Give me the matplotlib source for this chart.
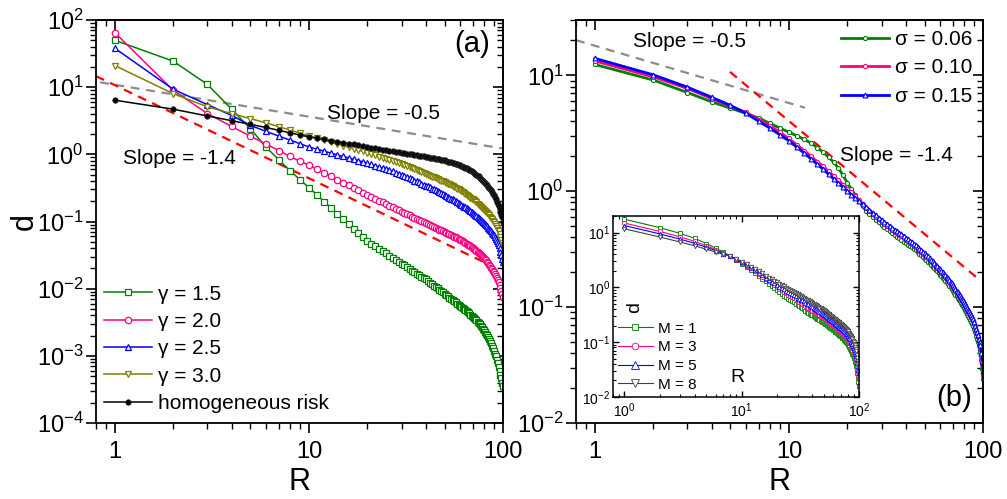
import numpy as np
import matplotlib
matplotlib.use("Agg")
import matplotlib.pyplot as plt
from matplotlib.ticker import NullFormatter

plt.rcParams["font.family"] = ["Liberation Sans", "DejaVu Sans"]
plt.rcParams["mathtext.fontset"] = "custom"
plt.rcParams["mathtext.rm"] = "Liberation Sans"
plt.rcParams["mathtext.it"] = "Liberation Sans:italic"
plt.rcParams["axes.linewidth"] = 1.3

R = np.arange(1, 101)

# panel (a): heterogeneous risk exponents
gamma_15 = [50, 24.4, 11, 4.7, 2.4, 1.29, 0.83, 0.57, 0.42, 0.32,
            0.249, 0.197, 0.16, 0.131, 0.109, 0.092, 0.0784, 0.0674, 0.0584, 0.051,
            0.0465, 0.0425, 0.0391, 0.0361, 0.0334, 0.031, 0.0288, 0.0269, 0.0252, 0.0236,
            0.0222, 0.0209, 0.0197, 0.0186, 0.0176, 0.0167, 0.0158, 0.0151, 0.0143, 0.0137,
            0.013, 0.0123, 0.0117, 0.0111, 0.0106, 0.0101, 0.0096, 0.0092, 0.0088, 0.0084,
            0.0080, 0.00767, 0.00735, 0.00704, 0.00676, 0.00649, 0.00623, 0.00599, 0.00576, 0.00555,
            0.00535, 0.00516, 0.00498, 0.00481, 0.00465, 0.00447, 0.00429, 0.00412, 0.00396, 0.0038,
            0.00365, 0.0035, 0.00336, 0.00323, 0.0031, 0.00295, 0.0028, 0.00266, 0.00253, 0.0024,
            0.00227, 0.00214, 0.00202, 0.00191, 0.0018, 0.00166, 0.00153, 0.00141, 0.0013, 0.0012,
            0.00108, 0.00098, 0.00088, 0.00077, 0.00068, 0.0006, 0.00052, 0.00046, 0.0004, 0.00035]
gamma_20 = [65, 9.0, 4.05, 2.6, 1.86, 1.43, 1.14, 0.93, 0.79, 0.69,
            0.60, 0.528, 0.469, 0.421, 0.38, 0.346, 0.316, 0.291, 0.269, 0.25,
            0.233, 0.218, 0.205, 0.193, 0.182, 0.172, 0.163, 0.155, 0.147, 0.14,
            0.134, 0.128, 0.123, 0.118, 0.113, 0.109, 0.105, 0.101, 0.097, 0.094,
            0.091, 0.088, 0.0855, 0.0829, 0.0805, 0.0782, 0.076, 0.0739, 0.0719, 0.070,
            0.068, 0.0661, 0.0643, 0.0626, 0.0609, 0.0593, 0.0578, 0.0564, 0.055, 0.0537,
            0.0524, 0.0509, 0.0494, 0.048, 0.0467, 0.0454, 0.0442, 0.043, 0.0419, 0.0408,
            0.0395, 0.038, 0.0366, 0.0353, 0.0341, 0.0329, 0.0318, 0.0307, 0.0297, 0.0287,
            0.0276, 0.0263, 0.0251, 0.024, 0.0229, 0.0218, 0.0206, 0.0195, 0.0185, 0.0175,
            0.0164, 0.0153, 0.0143, 0.0134, 0.0125, 0.0113, 0.0102, 0.0092, 0.0083, 0.0074]
gamma_25 = [38, 9.3, 5.5, 3.8, 2.7, 2.2, 1.87, 1.63, 1.44, 1.29,
            1.195, 1.113, 1.043, 0.982, 0.93, 0.884, 0.843, 0.805, 0.772, 0.74,
            0.707, 0.677, 0.649, 0.623, 0.60, 0.577, 0.556, 0.536, 0.517, 0.50,
            0.479, 0.459, 0.44, 0.423, 0.407, 0.395, 0.381, 0.367, 0.355, 0.343,
            0.333, 0.321, 0.31, 0.30, 0.29, 0.28, 0.272, 0.263, 0.255, 0.248,
            0.242, 0.234, 0.227, 0.22, 0.213, 0.206, 0.20, 0.195, 0.189, 0.184,
            0.179, 0.173, 0.167, 0.162, 0.157, 0.152, 0.148, 0.143, 0.139, 0.135,
            0.131, 0.126, 0.121, 0.117, 0.113, 0.109, 0.105, 0.101, 0.098, 0.0945,
            0.0913, 0.0878, 0.0844, 0.0811, 0.078, 0.0745, 0.0711, 0.0679, 0.0649, 0.062,
            0.0582, 0.0546, 0.0512, 0.048, 0.045, 0.040, 0.0356, 0.0316, 0.0281, 0.025]
gamma_30 = [21, 8.0, 5.1, 4.05, 3.4, 2.95, 2.58, 2.3, 2.07, 1.88,
            1.74, 1.62, 1.52, 1.43, 1.35, 1.28, 1.215, 1.16, 1.11, 1.06,
            1.01, 0.965, 0.92, 0.885, 0.85, 0.817, 0.788, 0.76, 0.734, 0.71,
            0.684, 0.66, 0.638, 0.617, 0.597, 0.579, 0.559, 0.541, 0.524, 0.507,
            0.495, 0.48, 0.467, 0.454, 0.441, 0.429, 0.418, 0.407, 0.397, 0.388,
            0.378, 0.367, 0.356, 0.346, 0.336, 0.327, 0.318, 0.309, 0.301, 0.294,
            0.285, 0.275, 0.266, 0.258, 0.249, 0.242, 0.234, 0.227, 0.22, 0.214,
            0.207, 0.199, 0.192, 0.184, 0.178, 0.171, 0.165, 0.159, 0.154, 0.149,
            0.144, 0.139, 0.134, 0.129, 0.124, 0.118, 0.113, 0.108, 0.103, 0.098,
            0.092, 0.086, 0.081, 0.076, 0.071, 0.0645, 0.0586, 0.0533, 0.0484, 0.044]
homog = [6.4, 4.7, 3.73, 3.17, 2.8, 2.51, 2.28, 2.09, 1.94, 1.82,
         1.74, 1.67, 1.6, 1.55, 1.5, 1.45, 1.41, 1.37, 1.33, 1.30,
         1.264, 1.231, 1.2, 1.176, 1.154, 1.133, 1.113, 1.094, 1.076, 1.06,
         1.043, 1.028, 1.013, 0.998, 0.984, 0.971, 0.958, 0.946, 0.932, 0.918,
         0.905, 0.893, 0.881, 0.87, 0.859, 0.848, 0.838, 0.828, 0.818, 0.81,
         0.796, 0.782, 0.769, 0.756, 0.744, 0.732, 0.72, 0.709, 0.698, 0.688,
         0.674, 0.659, 0.644, 0.63, 0.616, 0.603, 0.59, 0.578, 0.562, 0.544,
         0.528, 0.512, 0.496, 0.482, 0.468, 0.451, 0.434, 0.417, 0.401, 0.386,
         0.371, 0.358, 0.345, 0.33, 0.316, 0.303, 0.29, 0.274, 0.258, 0.244,
         0.23, 0.213, 0.198, 0.183, 0.17, 0.155, 0.14, 0.127, 0.115, 0.10]

# panel (b): sigma values
sigma_006 = [12.4, 9.1, 7.1, 5.9, 5.2, 4.7, 4.27, 3.84, 3.5, 3.23,
             3.0, 2.8, 2.6, 2.38, 2.17, 1.97, 1.78, 1.58, 1.37, 1.18,
             1.04, 0.92, 0.82, 0.74, 0.68, 0.639, 0.602, 0.569, 0.538, 0.51,
             0.488, 0.468, 0.45, 0.433, 0.416, 0.401, 0.392, 0.379, 0.368, 0.357,
             0.346, 0.336, 0.327, 0.318, 0.309, 0.298, 0.288, 0.279, 0.27, 0.261,
             0.253, 0.246, 0.238, 0.232, 0.224, 0.216, 0.209, 0.203, 0.196, 0.19,
             0.184, 0.179, 0.174, 0.169, 0.164, 0.159, 0.153, 0.148, 0.142, 0.137,
             0.133, 0.128, 0.124, 0.12, 0.116, 0.112, 0.108, 0.105, 0.102, 0.099,
             0.095, 0.091, 0.088, 0.084, 0.081, 0.078, 0.075, 0.072, 0.069, 0.0647,
             0.0606, 0.0568, 0.0532, 0.0499, 0.0467, 0.0438, 0.041, 0.035, 0.029, 0.024]
sigma_010 = [13.3, 9.7, 7.7, 6.3, 5.4, 4.8, 4.15, 3.66, 3.22, 2.85,
             2.51, 2.23, 2.0, 1.8, 1.64, 1.485, 1.355, 1.24, 1.14, 1.05,
             0.975, 0.905, 0.838, 0.777, 0.72, 0.675, 0.636, 0.60, 0.57, 0.542,
             0.52, 0.50, 0.482, 0.465, 0.449, 0.434, 0.423, 0.409, 0.395, 0.383,
             0.371, 0.36, 0.349, 0.339, 0.328, 0.317, 0.307, 0.298, 0.288, 0.28,
             0.272, 0.264, 0.256, 0.248, 0.239, 0.232, 0.224, 0.217, 0.21, 0.204,
             0.198, 0.192, 0.186, 0.181, 0.176, 0.171, 0.165, 0.159, 0.154, 0.148,
             0.143, 0.138, 0.134, 0.129, 0.125, 0.121, 0.117, 0.114, 0.11, 0.1065,
             0.1025, 0.0988, 0.0951, 0.0916, 0.0882, 0.0849, 0.0818, 0.0788, 0.0759, 0.0712,
             0.0667, 0.0625, 0.0586, 0.0548, 0.0515, 0.0482, 0.0452, 0.038, 0.032, 0.026]
sigma_015 = [14.0, 10.1, 7.9, 6.46, 5.5, 4.7, 4.01, 3.49, 3.06, 2.72,
             2.39, 2.13, 1.9, 1.71, 1.55, 1.40, 1.28, 1.175, 1.08, 1.0,
             0.933, 0.873, 0.819, 0.77, 0.727, 0.687, 0.651, 0.619, 0.589, 0.562,
             0.54, 0.52, 0.501, 0.483, 0.466, 0.451, 0.439, 0.425, 0.411, 0.398,
             0.386, 0.374, 0.363, 0.353, 0.341, 0.33, 0.319, 0.309, 0.30, 0.291,
             0.282, 0.274, 0.266, 0.257, 0.249, 0.241, 0.233, 0.226, 0.219, 0.212,
             0.205, 0.199, 0.194, 0.188, 0.183, 0.178, 0.172, 0.166, 0.16, 0.154,
             0.149, 0.144, 0.139, 0.134, 0.13, 0.126, 0.122, 0.118, 0.1145, 0.1107,
             0.1066, 0.1027, 0.0989, 0.0952, 0.0917, 0.0883, 0.085, 0.0819, 0.0789, 0.074,
             0.0693, 0.065, 0.0609, 0.057, 0.0535, 0.0501, 0.047, 0.040, 0.034, 0.028]

# inset: M values
m_1 = [17.5, 12.3, 9.6, 7.8, 6.3, 5.2, 4.4, 3.7, 3.15, 2.7,
       2.37, 2.1, 1.83, 1.6, 1.43, 1.28, 1.15, 1.05, 0.96, 0.88,
       0.816, 0.759, 0.708, 0.663, 0.622, 0.593, 0.56, 0.53, 0.502, 0.477,
       0.456, 0.434, 0.414, 0.395, 0.378, 0.361, 0.346, 0.332, 0.319, 0.307,
       0.299, 0.289, 0.279, 0.27, 0.261, 0.253, 0.245, 0.238, 0.231, 0.224,
       0.218, 0.212, 0.205, 0.20, 0.194, 0.189, 0.183, 0.179, 0.174, 0.169,
       0.165, 0.16, 0.155, 0.151, 0.146, 0.142, 0.138, 0.135, 0.131, 0.128,
       0.124, 0.121, 0.117, 0.113, 0.11, 0.106, 0.102, 0.099, 0.095, 0.092,
       0.088, 0.084, 0.08, 0.076, 0.073, 0.069, 0.065, 0.062, 0.058, 0.055,
       0.051, 0.047, 0.043, 0.040, 0.037, 0.032, 0.027, 0.023, 0.019, 0.016]
m_3 = [14.9, 10.5, 8.31, 6.88, 5.73, 4.88, 4.24, 3.7, 3.21, 2.8,
       2.48, 2.22, 1.96, 1.74, 1.57, 1.41, 1.28, 1.18, 1.087, 1.01,
       0.941, 0.88, 0.825, 0.776, 0.731, 0.70, 0.665, 0.632, 0.602, 0.575,
       0.551, 0.527, 0.505, 0.482, 0.462, 0.442, 0.425, 0.408, 0.392, 0.378,
       0.368, 0.355, 0.343, 0.332, 0.322, 0.312, 0.302, 0.293, 0.285, 0.276,
       0.268, 0.261, 0.252, 0.245, 0.238, 0.231, 0.224, 0.218, 0.212, 0.206,
       0.201, 0.195, 0.189, 0.185, 0.179, 0.174, 0.169, 0.165, 0.161, 0.157,
       0.153, 0.149, 0.144, 0.14, 0.136, 0.132, 0.127, 0.123, 0.119, 0.116,
       0.111, 0.106, 0.101, 0.096, 0.092, 0.087, 0.0825, 0.0786, 0.0738, 0.0699,
       0.0651, 0.0601, 0.0551, 0.0512, 0.0472, 0.041, 0.0351, 0.0303, 0.0256, 0.0219]
m_5 = [13.4, 9.45, 7.55, 6.33, 5.37, 4.67, 4.13, 3.7, 3.25, 2.86,
       2.56, 2.3, 2.06, 1.85, 1.67, 1.51, 1.38, 1.27, 1.18, 1.107,
       1.036, 0.972, 0.914, 0.863, 0.816, 0.783, 0.746, 0.712, 0.681, 0.652,
       0.626, 0.60, 0.577, 0.552, 0.529, 0.507, 0.488, 0.469, 0.451, 0.435,
       0.423, 0.409, 0.395, 0.382, 0.37, 0.359, 0.348, 0.337, 0.328, 0.319,
       0.309, 0.30, 0.29, 0.281, 0.272, 0.264, 0.257, 0.25, 0.243, 0.235,
       0.229, 0.223, 0.217, 0.211, 0.205, 0.20, 0.194, 0.19, 0.185, 0.181,
       0.176, 0.171, 0.166, 0.161, 0.157, 0.152, 0.148, 0.143, 0.139, 0.135,
       0.13, 0.124, 0.118, 0.112, 0.107, 0.102, 0.097, 0.0921, 0.0869, 0.0821,
       0.0768, 0.071, 0.0652, 0.0604, 0.0556, 0.0485, 0.0419, 0.0364, 0.0313, 0.027]
m_8 = [11.7, 8.3, 6.7, 5.7, 4.96, 4.43, 4.0, 3.7, 3.3, 2.95,
       2.66, 2.4, 2.18, 1.98, 1.8, 1.64, 1.51, 1.4, 1.31, 1.24,
       1.165, 1.098, 1.037, 0.983, 0.933, 0.898, 0.859, 0.824, 0.791, 0.76,
       0.732, 0.705, 0.679, 0.651, 0.625, 0.60, 0.577, 0.556, 0.535, 0.516,
       0.502, 0.485, 0.469, 0.454, 0.44, 0.426, 0.413, 0.401, 0.39, 0.379,
       0.367, 0.355, 0.344, 0.333, 0.322, 0.312, 0.303, 0.294, 0.286, 0.277,
       0.27, 0.263, 0.256, 0.249, 0.242, 0.236, 0.23, 0.224, 0.219, 0.214,
       0.209, 0.203, 0.197, 0.192, 0.187, 0.182, 0.177, 0.172, 0.168, 0.163,
       0.157, 0.15, 0.143, 0.136, 0.13, 0.124, 0.118, 0.112, 0.106, 0.10,
       0.094, 0.087, 0.08, 0.074, 0.068, 0.0595, 0.052, 0.0457, 0.04, 0.035]

# guide lines (end points)
a_red_R, a_red_d = [0.8, 90], [14.6, 0.021]
a_grey_R, a_grey_d = [0.84, 100], [11.8, 1.22]
b_red_R, b_red_d = [4.97, 92.8], [10.7, 0.18]
b_grey_R, b_grey_d = [0.8, 12.1], [20.1, 5.25]

GREEN, PINK, BLUE, OLIVE = "#008000", "#FF0080", "#0000FF", "#808000"


def style_main(ax):
    ax.set_xscale("log")
    ax.set_yscale("log")
    ax.tick_params(which="major", direction="out", length=7, width=1.2, labelsize=17)
    ax.tick_params(which="minor", direction="out", length=4, width=1.0)
    ax.tick_params(axis="x", pad=6)
    ax.tick_params(axis="y", pad=2)
    for side in ("top", "right"):
        if side == "top":
            sec = ax.secondary_xaxis("top")
            sec.tick_params(axis="x", labeltop=False)
        else:
            sec = ax.secondary_yaxis("right")
            sec.tick_params(axis="y", labelright=False)
        sec.tick_params(which="major", direction="in", length=7, width=1.2)
        sec.tick_params(which="minor", direction="in", length=4, width=1.0)
    ax.set_xlim(0.8, 100)
    ax.set_xticks([1, 10, 100])
    ax.set_xticklabels(["1", "10", "100"])
    ax.xaxis.set_minor_formatter(NullFormatter())
    ax.yaxis.set_minor_formatter(NullFormatter())


fig = plt.figure(figsize=(10.07, 4.99), dpi=100)
ax_a = fig.add_axes([0.0953, 0.1523, 0.4042, 0.8076])
ax_b = fig.add_axes([0.572, 0.1523, 0.4042, 0.8076])
ax_in = fig.add_axes([0.6087, 0.2044, 0.2443, 0.3627])

# ---- panel (a)
ax_a.plot(a_grey_R, a_grey_d, color="#8c8c8c", lw=1.6, dashes=(4, 3), zorder=1)
ax_a.plot(a_red_R, a_red_d, color="#FF0000", lw=1.6, dashes=(4, 3), zorder=1)
ax_a.plot(R, gamma_15, color=GREEN, lw=1.1, marker="s", ms=4.2, mfc="white", mew=0.9, label="γ = 1.5")
ax_a.plot(R, gamma_20, color=PINK, lw=1.1, marker="o", ms=4.6, mfc="white", mew=0.9, label="γ = 2.0")
ax_a.plot(R, gamma_25, color=BLUE, lw=1.1, marker="^", ms=5, mfc="white", mew=0.9, label="γ = 2.5")
ax_a.plot(R, gamma_30, color=OLIVE, lw=1.1, marker="v", ms=5, mfc="white", mew=0.9, label="γ = 3.0")
ax_a.plot(R, homog, color="black", lw=1.1, marker="o", ms=4, mfc="black", mec="#333333",
          mew=0.5, label="homogeneous risk")
style_main(ax_a)
ax_a.set_ylim(1e-4, 1e2)
ax_a.set_xlabel("R", fontsize=22, labelpad=3)
ax_a.set_ylabel("d", fontsize=22, labelpad=-2)
ax_a.text(0.968, 0.94, "(a)", transform=ax_a.transAxes, fontsize=21, ha="right", va="center")
ax_a.text(0.5676, 0.768, "Slope = -0.5", transform=ax_a.transAxes, fontsize=15, ha="left", va="center")
ax_a.text(0.0663, 0.656, "Slope = -1.4", transform=ax_a.transAxes, fontsize=15, ha="left", va="center")
ax_a.legend(loc="lower left", bbox_to_anchor=(0.02, 0.025), frameon=False, fontsize=15,
            handlelength=2.3, handletextpad=0.3, labelspacing=0.4, borderpad=0,
            borderaxespad=0, numpoints=1)

# ---- panel (b)
ax_b.plot(b_grey_R, b_grey_d, color="#8c8c8c", lw=1.6, dashes=(4, 3), zorder=1)
ax_b.plot(b_red_R, b_red_d, color="#FF0000", lw=1.6, dashes=(4, 3), zorder=1)
ax_b.plot(R, sigma_006, color=GREEN, lw=2.0, marker="o", ms=3, mfc="white", mew=0.8, label="σ = 0.06")
ax_b.plot(R, sigma_010, color=PINK, lw=2.0, marker="o", ms=3, mfc="white", mew=0.8, label="σ = 0.10")
ax_b.plot(R, sigma_015, color=BLUE, lw=2.0, marker="^", ms=3.5, mfc="white", mew=0.8, label="σ = 0.15")
style_main(ax_b)
ax_b.set_ylim(0.01, 30)
ax_b.set_xlabel("R", fontsize=22, labelpad=3)
ax_b.text(0.973, 0.063, "(b)", transform=ax_b.transAxes, fontsize=21, ha="right", va="center")
ax_b.text(0.14, 0.947, "Slope = -0.5", transform=ax_b.transAxes, fontsize=15, ha="left", va="center")
ax_b.text(0.649, 0.665, "Slope = -1.4", transform=ax_b.transAxes, fontsize=15, ha="left", va="center")
ax_b.legend(loc="upper right", bbox_to_anchor=(0.975, 0.975), frameon=False, fontsize=15,
            handlelength=2.3, handletextpad=0.3, labelspacing=0.45, borderpad=0,
            borderaxespad=0, numpoints=1)

# ---- inset
ax_in.plot(R, m_1, color=GREEN, lw=0.8, marker="s", ms=3, mfc="white", mew=0.6, label="M = 1")
ax_in.plot(R, m_3, color=PINK, lw=0.8, marker="o", ms=3, mfc="white", mew=0.6, label="M = 3")
ax_in.plot(R, m_5, color=BLUE, lw=0.8, marker="^", ms=3.2, mfc="white", mew=0.6, label="M = 5")
ax_in.plot(R, m_8, color="#404040", lw=0.8, marker="v", ms=3.2, mfc="white", mew=0.6, label="M = 8")
ax_in.set_xscale("log")
ax_in.set_yscale("log")
ax_in.set_xlim(0.8, 100)
ax_in.set_ylim(0.01, 20)
ax_in.tick_params(which="both", direction="in", top=True, right=True, labelsize=10)
ax_in.tick_params(which="major", length=4.5, width=1.0)
ax_in.tick_params(which="minor", length=2.5, width=0.8)
ax_in.tick_params(axis="y", pad=2)
ax_in.xaxis.set_minor_formatter(NullFormatter())
ax_in.yaxis.set_minor_formatter(NullFormatter())
for sp in ax_in.spines.values():
    sp.set_linewidth(1.1)
ax_in.text(0.089, 0.497, "d", transform=ax_in.transAxes, fontsize=14, rotation=90,
           ha="center", va="center")
ax_in.text(0.508, 0.11, "R", transform=ax_in.transAxes, fontsize=14, ha="center", va="center")
ax_in.legend(loc="lower left", bbox_to_anchor=(0.02, 0.03), frameon=False, fontsize=11,
             handlelength=2.3, handletextpad=0.3, labelspacing=0.3, borderpad=0,
             borderaxespad=0, numpoints=1, markerscale=1.6)

fig.savefig("out.png", dpi=100)
